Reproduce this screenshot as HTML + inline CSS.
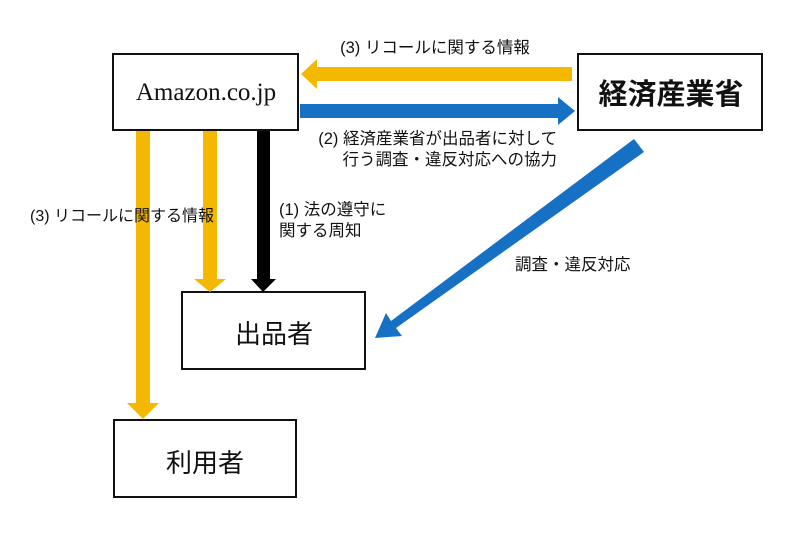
<!DOCTYPE html>
<html><head><meta charset="utf-8"><style>
html,body{margin:0;padding:0;background:#fff;}
svg{display:block;}
text{font-family:"Liberation Sans","Noto Sans CJK JP",sans-serif;fill:#111;}
</style></head><body>
<svg width="800" height="536" viewBox="0 0 800 536" xmlns="http://www.w3.org/2000/svg">
<rect x="113" y="54" width="185" height="76" fill="#fff" stroke="#111" stroke-width="2"/>
<rect x="578" y="54" width="184" height="76" fill="#fff" stroke="#111" stroke-width="2"/>
<rect x="182" y="292" width="183" height="77" fill="#fff" stroke="#111" stroke-width="2"/>
<rect x="114" y="420" width="182" height="77" fill="#fff" stroke="#111" stroke-width="2"/>
<polygon points="572,67 317,67 317,59 301,74 317,89 317,81 572,81" fill="#f5b800"/>
<polygon points="300,104 558,104 558,97 575,111 558,125 558,118 300,118" fill="#1670c4"/>
<polygon points="136,131 150,131 150,403 159,403 143,419 127,403 136,403" fill="#f5b800"/>
<polygon points="203,131 217,131 217,279 226,279 210,292 194,279 203,279" fill="#f5b800"/>
<polygon points="257,131 270,131 270,279 276,279 263,292 251,279 257,279" fill="#000"/>
<polygon points="634,139 644,152 396,328 402,336 375,338 386,313 391,321" fill="#1670c4"/>
<text x="206" y="100" font-size="25" text-anchor="middle" style="font-family:'Liberation Serif',serif">Amazon.co.jp</text>
<text x="671" y="104" font-size="29" text-anchor="middle" font-weight="bold">経済産業省</text>
<text x="274" y="343" font-size="26" text-anchor="middle">出品者</text>
<text x="205" y="472" font-size="26" text-anchor="middle">利用者</text>
<text x="435" y="53" font-size="16.5" text-anchor="middle">(3) リコールに関する情報</text>
<text x="557" y="144" font-size="16.5" text-anchor="end">(2) 経済産業省が出品者に対して</text>
<text x="557" y="165" font-size="16.5" text-anchor="end">行う調査・違反対応への協力</text>
<text x="30" y="221" font-size="16" >(3) リコールに関する情報</text>
<text x="279" y="215" font-size="16.5">(1) 法の遵守に</text>
<text x="279" y="236" font-size="16.5">関する周知</text>
<text x="515" y="270" font-size="16.5">調査・違反対応</text>
</svg>
</body></html>
